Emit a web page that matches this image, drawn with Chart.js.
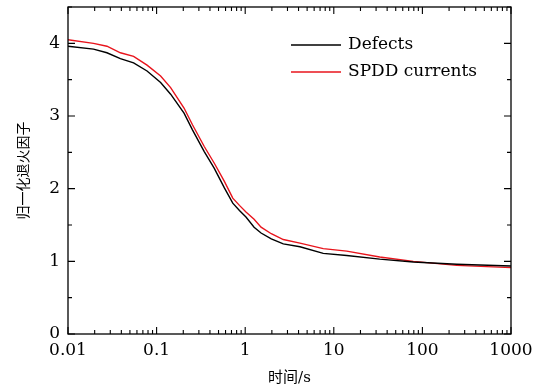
<!DOCTYPE html>
<html>
<head>
<meta charset="utf-8">
<script src="https://cdn.jsdelivr.net/npm/chart.js@4.4.0/dist/chart.umd.min.js"></script>
<style>
  html, body { margin: 0; padding: 0; background: #fff; }
  #wrap { width: 541px; height: 390px; }
</style>
</head>
<body>
<div id="wrap"><canvas id="decayChart"></canvas></div>
<script>
// values
const times = [0.01, 0.0194, 0.0275, 0.039, 0.055, 0.078, 0.111, 0.144, 0.204, 0.254, 0.345, 0.448, 0.582, 0.724, 0.861, 1.02, 1.26, 1.51, 1.97, 2.69, 4.15, 7.6, 14, 33, 79, 244, 1000];
const defects = [3.96, 3.92, 3.87, 3.79, 3.73, 3.62, 3.46, 3.30, 3.04, 2.81, 2.51, 2.28, 2.01, 1.80, 1.70, 1.61, 1.47, 1.39, 1.31, 1.24, 1.20, 1.11, 1.08, 1.03, 0.99, 0.96, 0.935];
const spdd = [4.05, 4.00, 3.96, 3.87, 3.82, 3.70, 3.55, 3.39, 3.11, 2.88, 2.58, 2.35, 2.10, 1.87, 1.77, 1.68, 1.58, 1.47, 1.38, 1.30, 1.25, 1.175, 1.14, 1.06, 1.00, 0.945, 0.913];
const xTicks = [0.01, 0.1, 1, 10, 100, 1000];
const yTicks = [0, 1, 2, 3, 4];

const serif = "'DejaVu Serif', 'Noto Sans CJK SC', serif";

function pts(ys) {
  return times.map((t, i) => ({ x: t, y: ys[i] }));
}

// border, inward ticks on all four sides, and the legend
const frame = {
  id: "frame",
  afterDraw(chart) {
    const { ctx, chartArea: a, scales } = chart;
    const xs = scales.x, ys = scales.y;
    ctx.save();
    ctx.strokeStyle = "#000";
    ctx.lineWidth = 1.3;
    ctx.strokeRect(a.left, a.top, a.right - a.left, a.bottom - a.top);

    ctx.lineWidth = 1.1;
    ctx.beginPath();
    for (let v = 0; v <= 4.5; v += 0.5) {
      const py = ys.getPixelForValue(v);
      const len = Number.isInteger(v) ? 7 : 4;
      ctx.moveTo(a.left, py); ctx.lineTo(a.left + len, py);
      ctx.moveTo(a.right, py); ctx.lineTo(a.right - len, py);
    }
    for (let d = 0.01; d < 1000; d *= 10) {
      for (let m = 1; m <= 9; m++) {
        const px = xs.getPixelForValue(d * m);
        const len = m === 1 ? 7 : 4;
        ctx.moveTo(px, a.bottom); ctx.lineTo(px, a.bottom - len);
        ctx.moveTo(px, a.top); ctx.lineTo(px, a.top + len);
      }
    }
    const pe = xs.getPixelForValue(1000);
    ctx.moveTo(pe, a.bottom); ctx.lineTo(pe, a.bottom - 7);
    ctx.moveTo(pe, a.top); ctx.lineTo(pe, a.top + 7);
    ctx.stroke();

    // legend
    ctx.font = "17px " + serif;
    ctx.textBaseline = "middle";
    ctx.fillStyle = "#000";
    chart.data.datasets.forEach((ds, i) => {
      const y = 45 + i * 27;
      ctx.strokeStyle = ds.borderColor;
      ctx.lineWidth = 1.3;
      ctx.beginPath();
      ctx.moveTo(291, y); ctx.lineTo(341, y);
      ctx.stroke();
      ctx.fillText(ds.label, 348, y);
    });
    ctx.restore();
  }
};

new Chart(document.getElementById("decayChart"), {
  type: "line",
  data: {
    datasets: [
      { label: "Defects", data: pts(defects), borderColor: "#000", borderWidth: 1.4 },
      { label: "SPDD currents", data: pts(spdd), borderColor: "#e8141c", borderWidth: 1.4 }
    ]
  },
  options: {
    responsive: true,
    maintainAspectRatio: false,
    animation: false,
    layout: { padding: { top: 7, right: 30, left: 0, bottom: 0 } },
    elements: { point: { radius: 0 }, line: { tension: 0 } },
    plugins: { legend: { display: false }, tooltip: { enabled: false } },
    scales: {
      x: {
        type: "logarithmic",
        min: 0.01,
        max: 1000,
        grid: { display: false, drawTicks: false },
        border: { display: false },
        afterBuildTicks: s => { s.ticks = xTicks.map(v => ({ value: v })); },
        afterFit: s => { s.height = 56; s.paddingLeft = 0; s.paddingRight = 0; },
        ticks: {
          color: "#000",
          padding: 6,
          maxRotation: 0,
          autoSkip: false,
          font: { family: serif, size: 17 },
          callback: v => String(v)
        },
        title: {
          display: true,
          text: "时间/s",
          color: "#000",
          font: { family: serif, size: 15 },
          padding: { top: 0, bottom: 3 }
        }
      },
      y: {
        min: 0,
        max: 4.5,
        grid: { display: false, drawTicks: false },
        border: { display: false },
        afterBuildTicks: s => { s.ticks = yTicks.map(v => ({ value: v })); },
        afterFit: s => { s.width = 68; s.paddingTop = 0; s.paddingBottom = 0; },
        ticks: {
          color: "#000",
          padding: 8,
          font: { family: serif, size: 17 }
        },
        title: {
          display: true,
          text: "归一化退火因子",
          color: "#000",
          font: { family: serif, size: 14 },
          padding: { top: 16, bottom: 0 }
        }
      }
    }
  },
  plugins: [frame]
});
</script>
</body>
</html>
